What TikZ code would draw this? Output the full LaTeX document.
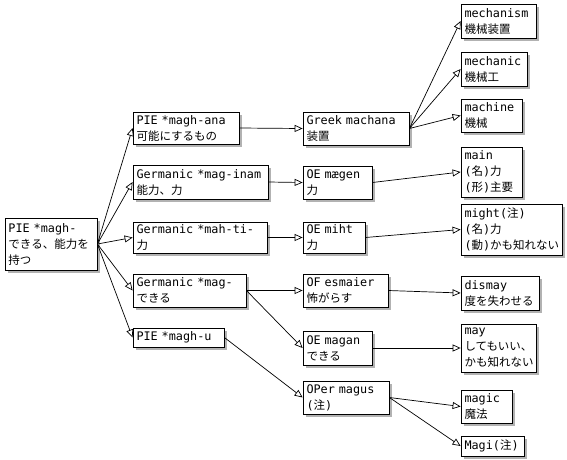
\documentclass[tikz,border=0pt]{standalone}
\usepackage{fontspec}
\setmainfont{DejaVu Sans Mono}
\newfontfamily\jpfont{Noto Sans CJK JP}
\usetikzlibrary{arrows.meta,shadows}
\exhyphenpenalty=10000
\hyphenpenalty=10000
\newcommand\JP[1]{{\jpfont\fontsize{11.5}{16}\selectfont #1}}
\newcommand\bx[6]{%
 \pgfmathsetmacro\bxw{#4-#2}\pgfmathsetmacro\bxh{#5-#3}\pgfmathsetmacro\bxt{#4-#2-7}%
 \pgfmathsetmacro\bxcx{(#2+#4)/2}\pgfmathsetmacro\bxcy{(#3+#5)/2}%
 \node[box, minimum width=\bxw pt, minimum height=\bxh pt, text width=\bxt pt] (#1) at (\bxcx,\bxcy) {#6};}
\tikzset{
 box/.style={draw, line width=0.8pt, fill=white, inner xsep=3.5pt, inner ysep=1pt, align=left,
   font=\fontsize{11.8}{16}\selectfont,
   drop shadow={shadow xshift=2.5pt, shadow yshift=-2.5pt, fill=black, opacity=0.3}},
 link/.style={line width=0.7pt, -{Triangle[open,length=8pt,width=7pt]}}
}
\begin{document}
\begin{tikzpicture}[x=1pt,y=-1pt]
\useasboundingbox (0,0) rectangle (567,459);
\bx{root}{5}{218}{97}{270}{PIE~*magh-\\\JP{できる、能力を}\\\JP{持つ}}
\bx{a1}{133}{112}{239}{144}{PIE~*magh-ana\\\JP{可能にするもの}}
\bx{a2}{133}{165}{268}{199}{Germanic~*mag-inam\\\JP{能力、力}}
\bx{a3}{133}{222}{267}{253}{Germanic~*mah-ti-\\\JP{力}}
\bx{a4}{133}{274}{246}{307}{Germanic~*mag-\\\JP{できる}}
\bx{a5}{133}{328}{224}{347}{PIE~*magh-u}
\bx{b1}{303}{112}{409}{145}{Greek~machana\\\JP{装置}}
\bx{b2}{303}{166}{372}{199}{OE~mægen\\\JP{力}}
\bx{b3}{303}{222}{365}{253}{OE~miht\\\JP{力}}
\bx{b4}{303}{274}{388}{307}{OF~esmaier\\\JP{怖がらす}}
\bx{b5}{303}{331}{372}{365}{OE~magan\\\JP{できる}}
\bx{b6}{303}{381}{389}{414}{OPer~magus\\(\JP{注})}
\bx{c1}{461}{4}{536}{38}{mechanism\\\JP{機械装置}}
\bx{c2}{461}{52}{527}{86}{mechanic\\\JP{機械工}}
\bx{c3}{461}{99}{522}{132}{machine\\\JP{機械}}
\bx{c4}{461}{147}{522}{197}{main\\(\JP{名})\JP{力}\\(\JP{形})\JP{主要}}
\bx{c5}{461}{204}{562}{255}{might(\JP{注})\\(\JP{名})\JP{力}\\(\JP{動})\JP{かも知れない}}
\bx{c6}{461}{276}{539}{310}{dismay\\\JP{度を失わせる}}
\bx{c7}{461}{324}{536}{372}{may\\\JP{してもいい、}\\\JP{かも知れない}}
\bx{c8}{461}{390}{512}{423}{magic\\\JP{魔法}}
\bx{c9}{461}{436}{524}{456}{Magi(\JP{注})}
\foreach \t in {a1,a2,a3,a4,a5} \draw[link] (root.east) -- (\t.west);
\draw[link] (a1.east) -- (b1.west);
\draw[link] (a2.east) -- (b2.west);
\draw[link] (a3.east) -- (b3.west);
\draw[link] (a4.east) -- (b4.west);
\draw[link] (a4.east) -- (b5.west);
\draw[link] (a5.east) -- (b6.west);
\draw[link] (b1.east) -- (c1.west);
\draw[link] (b1.east) -- (c2.west);
\draw[link] (b1.east) -- (c3.west);
\draw[link] (b2.east) -- (c4.west);
\draw[link] (b3.east) -- (c5.west);
\draw[link] (b4.east) -- (c6.west);
\draw[link] (b5.east) -- (c7.west);
\draw[link] (b6.east) -- (c8.west);
\draw[link] (b6.east) -- (c9.west);
\end{tikzpicture}
\end{document}
